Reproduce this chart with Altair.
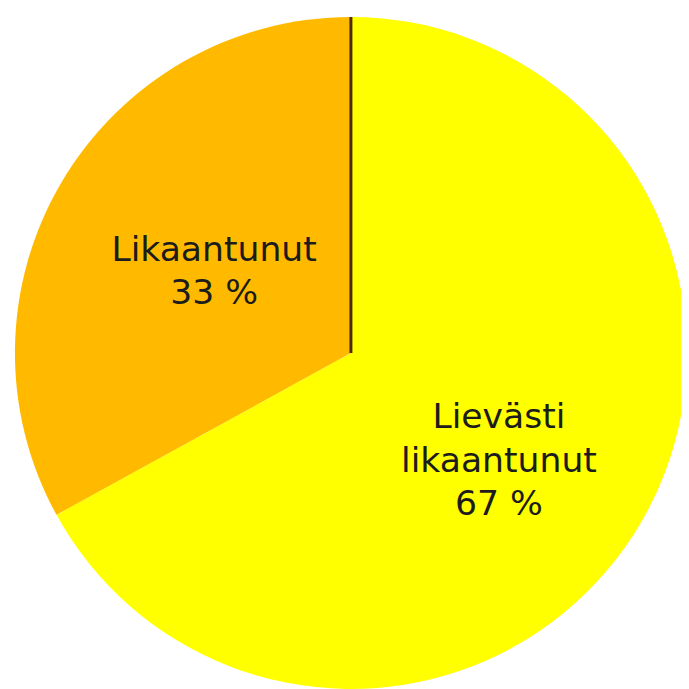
import altair as alt
import pandas as pd

categories = ["Lievästi likaantunut", "Likaantunut"]
labels = ["Lievästi\nlikaantunut\n67 %", "Likaantunut\n33 %"]
shares = [67, 33]
order = [0, 1]
colors = ["#FFFF00", "#FFBA00"]

df = pd.DataFrame({"category": categories, "share": shares, "label": labels, "order": order})

W = H = 681
CX, CY, R = 347, 345, 340
FONT = "DejaVu Sans"

base = alt.Chart(df).encode(
    theta=alt.Theta("share:Q", stack=True),
    order=alt.Order("order:Q"),
)

pie = base.mark_arc(outerRadius=R, x=CX, y=CY, stroke=None).encode(
    color=alt.Color("category:N", scale=alt.Scale(domain=categories, range=colors), legend=None)
)

txt_style = dict(font=FONT, fontSize=35, lineHeight=44, lineBreak="\n",
                 color="#1c1c1c", align="center", baseline="middle", x=CX, y=CY)

txt_orange = base.mark_text(radius=162, dx=1, dy=-22, **txt_style).encode(
    text=alt.condition(alt.datum.category == "Likaantunut", alt.Text("label:N"), alt.value(""))
)
txt_yellow = base.mark_text(radius=181, dx=-6, dy=-27, **txt_style).encode(
    text=alt.condition(alt.datum.category == "Lievästi likaantunut", alt.Text("label:N"), alt.value(""))
)

rule = alt.Chart(pd.DataFrame({"k": [0]})).mark_rule(color="#4f2a00", strokeWidth=3).encode(
    x=alt.value(CX), y=alt.value(CY - R), y2=alt.value(CY)
)

chart = alt.layer(pie, rule, txt_orange, txt_yellow).properties(
    width=W, height=H, padding=0, autosize=alt.AutoSizeParams(type="none"), background="white"
).configure_view(stroke=None)

chart.save("out.html", embed_options={"renderer": "svg", "actions": False})
